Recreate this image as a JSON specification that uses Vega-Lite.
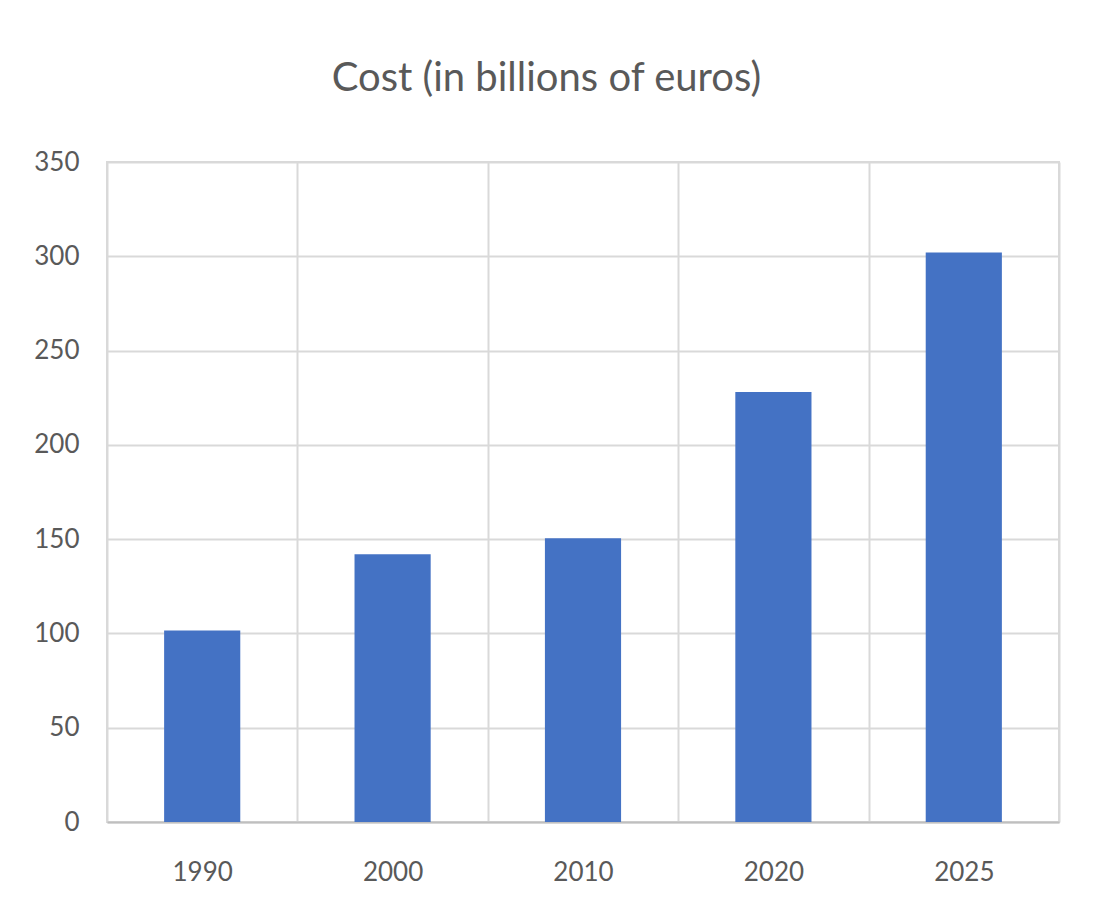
{
  "$schema": "https://vega.github.io/schema/vega-lite/v6.json",
  "autosize": "none",
  "width": 952,
  "height": 660,
  "padding": {"left": 107, "top": 162, "right": 43, "bottom": 94},
  "background": "white",
  "title": {
    "text": "Cost (in billions of euros)",
    "anchor": "middle",
    "frame": "bounds",
    "font": "Lato",
    "fontSize": 40,
    "fontWeight": "normal",
    "color": "#595959",
    "offset": 50
  },
  "data": {
    "values": [
      {"year": "1990", "cost": 101.5},
      {"year": "2000", "cost": 142},
      {"year": "2010", "cost": 150.5},
      {"year": "2020", "cost": 228},
      {"year": "2025", "cost": 302}
    ]
  },
  "mark": {"type": "bar", "color": "#4472C4", "width": {"band": 0.4}},
  "encoding": {
    "x": {
      "field": "year",
      "type": "ordinal",
      "scale": {"paddingInner": 0, "paddingOuter": 0},
      "axis": {
        "title": null,
        "labelAngle": 0,
        "tickBand": "extent",
        "grid": true,
        "gridColor": "#d9d9d9",
        "gridWidth": 2,
        "ticks": false,
        "domainColor": "#bfbfbf",
        "domainWidth": 2,
        "labelFont": "Lato",
        "labelFontSize": 26,
        "labelColor": "#595959",
        "labelPadding": 37
      }
    },
    "y": {
      "field": "cost",
      "type": "quantitative",
      "scale": {"domain": [0, 350]},
      "axis": {
        "title": null,
        "values": [0, 50, 100, 150, 200, 250, 300, 350],
        "grid": true,
        "gridColor": "#d9d9d9",
        "gridWidth": 2,
        "ticks": false,
        "domain": false,
        "labelFont": "Lato",
        "labelFontSize": 26,
        "labelColor": "#595959",
        "labelPadding": 28
      }
    }
  },
  "config": {
    "view": {"stroke": "#d9d9d9", "strokeWidth": 2}
  }
}
